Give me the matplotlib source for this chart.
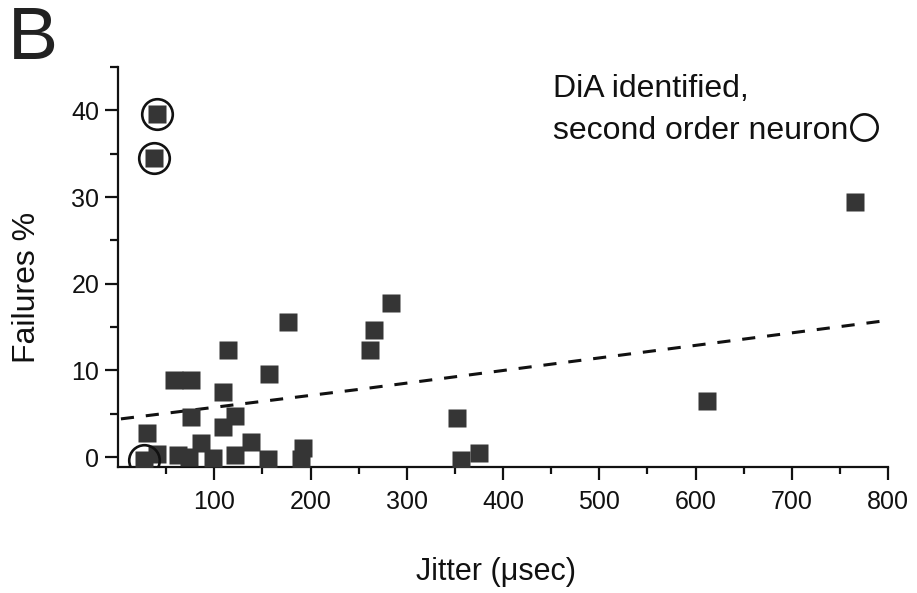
import matplotlib
matplotlib.use("Agg")
import matplotlib.pyplot as plt
from matplotlib.ticker import FixedLocator

plt.rcParams['font.family'] = ['Liberation Sans', 'DejaVu Sans']

# ---- data ----
jitter_us = [40, 37, 27, 30, 58, 76, 76, 114, 109, 122, 109, 157, 177,
             284, 266, 262, 352, 356, 375, 612, 766,
             41, 62, 74, 86, 99, 122, 138, 156, 190, 192]
failures_pct = [39.6, 34.5, -0.4, 2.8, 8.9, 8.9, 4.6, 12.4, 7.5, 4.7, 3.5, 9.6, 15.6,
                17.8, 14.7, 12.4, 4.5, -0.3, 0.5, 6.5, 29.4,
                0.3, 0.2, 0.0, 1.6, -0.1, 0.2, 1.7, -0.2, -0.2, 1.0]

# DiA identified second order neurons (circled)
dia_jitter = [40, 37, 27]
dia_failures = [39.6, 34.5, -0.4]

# dashed line
line_x = [3, 250, 463, 802]
line_y = [4.4, 7.8, 10.9, 15.8]

xticks = [100, 200, 300, 400, 500, 600, 700, 800]
yticks = [0, 10, 20, 30, 40]

fig = plt.figure(figsize=(9.17, 5.93), dpi=100)
ax = fig.add_axes([0.1287, 0.2125, 0.8397, 0.6745])

ax.plot(jitter_us, failures_pct, ls='none', marker='s', ms=12.4,
        mfc='#353535', mec='none', zorder=3)
circ, = ax.plot(dia_jitter, dia_failures, ls='none', marker='o', ms=22,
                mfc='none', mec='#111111', mew=1.9, zorder=4,
                label='second order neuron')
ax.plot(line_x, line_y, color='#111111', lw=2.2, dashes=(4.3, 3.9), zorder=2)

ax.set_xlim(0, 800)
ax.set_ylim(-1.15, 45)

for s in ['top', 'right']:
    ax.spines[s].set_visible(False)
for s in ['left', 'bottom']:
    ax.spines[s].set_linewidth(1.6)
    ax.spines[s].set_color('#111111')

ax.xaxis.set_major_locator(FixedLocator(xticks))
ax.xaxis.set_minor_locator(FixedLocator([50, 150, 250, 350, 450, 550, 650, 750]))
ax.yaxis.set_major_locator(FixedLocator(yticks))
ax.yaxis.set_minor_locator(FixedLocator([5, 15, 25, 35, 45]))
ax.set_xticklabels([str(t) for t in xticks])
ax.set_yticklabels([str(t) for t in yticks])

ax.tick_params(axis='x', which='major', direction='out', length=9.4, width=1.6,
               labelsize=18, pad=7.5, colors='#111111')
ax.tick_params(axis='x', which='minor', direction='out', length=5, width=1.6,
               colors='#111111')
ax.tick_params(axis='y', which='major', direction='out', length=9.4, width=1.6,
               labelsize=18, pad=4, colors='#111111')
ax.tick_params(axis='y', which='minor', direction='out', length=5.8, width=1.6,
               colors='#111111')

ax.set_xlabel('Jitter (μsec)', fontsize=22, color='#111111')
ax.xaxis.set_label_coords(0.491, -0.225)
ax.set_ylabel('Failures %', fontsize=23, color='#111111')
ax.yaxis.set_label_coords(-0.099, 0.45)

leg = ax.legend(handles=[circ], title='DiA identified,', loc='upper left',
                bbox_to_anchor=(0.603, 0.8752), bbox_transform=fig.transFigure,
                frameon=False, markerfirst=False, alignment='left',
                fontsize=23, title_fontsize=23, markerscale=0.86,
                handlelength=0.9, handletextpad=0.05, borderpad=0,
                borderaxespad=0, labelspacing=0.36)
for t in leg.get_texts():
    t.set_color('#111111')
leg.get_title().set_color('#111111')

fig.text(0.0087, 0.9, 'B', fontsize=54, color='#222222', va='baseline', ha='left')

fig.savefig('out.png', dpi=100)
